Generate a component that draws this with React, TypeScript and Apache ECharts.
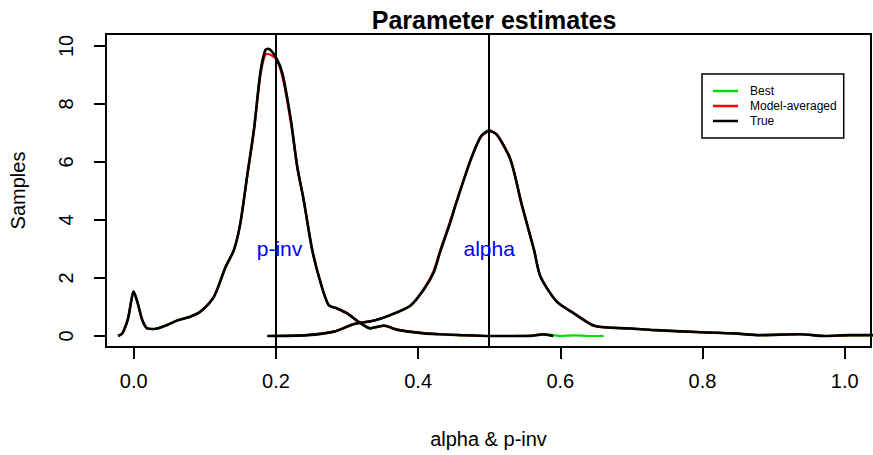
import React, { useEffect, useRef } from "react";
import * as echarts from "echarts";

// ---- data ----
const xTicks = [0, 0.2, 0.4, 0.6, 0.8, 1.0];
const yTicks = [0, 2, 4, 6, 8, 10];

const pinvX = [-0.022, -0.016, -0.008, 0.0, 0.006, 0.012, 0.019, 0.029, 0.047, 0.061, 0.08, 0.094, 0.113, 0.129, 0.141, 0.15, 0.16, 0.169, 0.178, 0.185, 0.189, 0.2, 0.209, 0.221, 0.23, 0.239, 0.251, 0.263, 0.274, 0.286, 0.3, 0.319, 0.333, 0.343, 0.352, 0.371, 0.408, 0.431, 0.46, 0.5, 0.53, 0.558, 0.575, 0.59];
const pinvTrue = [0.0, 0.09, 0.6, 1.53, 1.1, 0.55, 0.26, 0.24, 0.38, 0.53, 0.67, 0.84, 1.36, 2.37, 2.97, 3.89, 5.6, 7.1, 9.06, 9.85, 9.9, 9.6, 9.06, 7.45, 5.84, 4.69, 2.97, 1.82, 1.07, 0.95, 0.78, 0.44, 0.26, 0.32, 0.36, 0.21, 0.09, 0.06, 0.03, 0.0, 0.0, 0.0, 0.05, 0.0];
const pinvModel = [0.0, 0.1, 0.62, 1.5, 1.08, 0.55, 0.27, 0.24, 0.37, 0.54, 0.66, 0.85, 1.38, 2.35, 2.98, 3.9, 5.55, 7.05, 8.95, 9.7, 9.72, 9.55, 8.95, 7.35, 5.8, 4.7, 2.98, 1.83, 1.08, 0.94, 0.79, 0.45, 0.27, 0.31, 0.35, 0.22, 0.1, 0.06, 0.03, 0.0, 0.0, 0.01, 0.06, 0.0];

const pinvBestX = [-0.022, -0.016, -0.008, 0.0, 0.006, 0.012, 0.019, 0.029, 0.047, 0.061, 0.08, 0.094, 0.113, 0.129, 0.141, 0.15, 0.16, 0.169, 0.178, 0.185, 0.189, 0.2, 0.209, 0.221, 0.23, 0.239, 0.251, 0.263, 0.274, 0.286, 0.3, 0.319, 0.333, 0.343, 0.352, 0.371, 0.408, 0.431, 0.46, 0.5, 0.53, 0.558, 0.575, 0.6, 0.62, 0.64, 0.661];
const pinvBest = [0.0, 0.09, 0.6, 1.53, 1.1, 0.55, 0.26, 0.24, 0.38, 0.53, 0.67, 0.84, 1.36, 2.37, 2.97, 3.89, 5.6, 7.1, 9.06, 9.85, 9.9, 9.6, 9.06, 7.45, 5.84, 4.69, 2.97, 1.82, 1.07, 0.95, 0.78, 0.44, 0.26, 0.32, 0.36, 0.21, 0.09, 0.06, 0.03, 0.0, 0.0, 0.01, 0.07, 0.0, 0.02, 0.0, 0.0];

const alphaX = [0.188, 0.244, 0.282, 0.31, 0.338, 0.361, 0.389, 0.408, 0.422, 0.431, 0.445, 0.455, 0.474, 0.488, 0.5, 0.511, 0.53, 0.546, 0.563, 0.572, 0.595, 0.619, 0.649, 0.698, 0.727, 0.797, 0.844, 0.881, 0.937, 0.973, 1.008, 1.04];
const alphaTrue = [0.0, 0.03, 0.15, 0.41, 0.53, 0.72, 1.04, 1.6, 2.2, 2.9, 3.9, 4.69, 6.07, 6.87, 7.08, 6.93, 6.07, 4.5, 2.97, 2.05, 1.18, 0.78, 0.34, 0.26, 0.21, 0.13, 0.09, 0.03, 0.06, 0.0, 0.03, 0.03];
const alphaModel = [0.0, 0.03, 0.16, 0.42, 0.53, 0.72, 1.05, 1.62, 2.25, 2.95, 3.95, 4.72, 6.1, 6.85, 7.05, 6.95, 6.1, 4.52, 2.98, 2.06, 1.19, 0.79, 0.35, 0.26, 0.21, 0.13, 0.09, 0.03, 0.06, 0.0, 0.03, 0.03];
const alphaBest = [0.0, 0.03, 0.15, 0.41, 0.53, 0.72, 1.04, 1.6, 2.2, 2.9, 3.9, 4.69, 6.07, 6.87, 7.07, 6.93, 6.07, 4.5, 2.97, 2.05, 1.18, 0.78, 0.34, 0.26, 0.21, 0.13, 0.09, 0.03, 0.06, 0.0, 0.03, 0.03];

const vLines = [0.2, 0.5];
const paramLabels = ["p-inv", "alpha"];
const labelX = [0.205, 0.5];
const labelY = [3.03, 3.03];

const legendNames = ["Best", "Model-averaged", "True"];
const colors = ["#00dd00", "#ff0000", "#000000"];
const widths = [2.2, 2.2, 2.6];

const zip = (xs: number[], ys: number[]) => xs.map((x, i) => [x, ys[i]]);

export default function App() {
  const ref = useRef<HTMLDivElement>(null);
  useEffect(() => {
    if (!ref.current) return;
    const chart = echarts.init(ref.current, undefined, { renderer: "svg" });
    const lineSeries = (name: string, k: number, data: number[][]) => ({
      name,
      type: "line",
      data,
      smooth: 0.25,
      showSymbol: false,
      symbol: "none",
      color: colors[k],
      lineStyle: { color: colors[k], width: widths[k] },
      silent: true,
    });
    const font = "'Liberation Sans', Arial, Helvetica, sans-serif";
    chart.setOption({
      animation: false,
      textStyle: { fontFamily: font },
      title: {
        text: "Parameter estimates",
        left: 489,
        top: 2,
        textAlign: "center",
        textStyle: { fontSize: 25, fontWeight: "bold", color: "#000", fontFamily: font },
      },
      legend: {
        data: legendNames,
        orient: "vertical",
        left: 702,
        top: 74,
        icon: "rect",
        itemWidth: 25,
        itemHeight: 2.5,
        itemGap: 3,
        padding: [11, 7, 11, 11],
        borderColor: "#000",
        borderWidth: 1.5,
        backgroundColor: "#fff",
        selectedMode: false,
        textStyle: { fontSize: 12, color: "#000", fontFamily: font, padding: [0, 0, 0, 7] },
      },
      grid: {
        left: 105,
        right: 2,
        top: 34,
        bottom: 108,
        show: true,
        borderColor: "#000",
        borderWidth: 2,
        backgroundColor: "transparent",
      },
      xAxis: {
        type: "value",
        min: -0.039,
        max: 1.037,
        name: "alpha & p-inv",
        nameLocation: "middle",
        nameGap: 82,
        nameTextStyle: { fontSize: 20, color: "#000", fontFamily: font },
        axisLine: { show: true, onZero: false, lineStyle: { color: "#000", width: 2 } },
        axisTick: { show: true, length: 12, customValues: xTicks, lineStyle: { color: "#000", width: 2 } },
        axisLabel: {
          customValues: xTicks,
          margin: 24,
          fontSize: 20,
          color: "#000",
          fontFamily: font,
          formatter: (v: number) => v.toFixed(1),
        },
        splitLine: { show: false },
      },
      yAxis: {
        type: "value",
        min: -0.38,
        max: 10.41,
        name: "Samples",
        nameLocation: "middle",
        nameRotate: 90,
        nameGap: 78,
        nameTextStyle: { fontSize: 20, color: "#000", fontFamily: font },
        axisLine: { show: true, onZero: false, lineStyle: { color: "#000", width: 2 } },
        axisTick: { show: true, length: 12, customValues: yTicks, lineStyle: { color: "#000", width: 2 } },
        axisLabel: {
          customValues: yTicks,
          rotate: 90,
          margin: 30,
          fontSize: 20,
          color: "#000",
          fontFamily: font,
          formatter: (v: number) => String(v),
        },
        splitLine: { show: false },
      },
      series: [
        lineSeries("Best", 0, zip(pinvBestX, pinvBest)),
        lineSeries("Best", 0, zip(alphaX, alphaBest)),
        lineSeries("Model-averaged", 1, zip(pinvX, pinvModel)),
        lineSeries("Model-averaged", 1, zip(alphaX, alphaModel)),
        lineSeries("True", 2, zip(pinvX, pinvTrue)),
        {
          ...lineSeries("True", 2, zip(alphaX, alphaTrue)),
          markLine: {
            silent: true,
            symbol: ["none", "none"],
            label: { show: false },
            lineStyle: { color: "#000", width: 2, type: "solid", opacity: 1 },
            data: vLines.map((v) => ({ xAxis: v })),
          },
        },
        {
          name: "labels",
          type: "scatter",
          symbolSize: 0,
          silent: true,
          itemStyle: { opacity: 1 },
          data: labelX.map((x, i) => ({ value: [x, labelY[i]], name: paramLabels[i] })),
          label: {
            show: true,
            position: "inside",
            formatter: (p: any) => p.name,
            color: "#0000ff",
            opacity: 1,
            fontSize: 21,
            fontFamily: font,
          },
          z: 10,
        },
      ],
    });
    return () => chart.dispose();
  }, []);
  return (
    <div
      ref={ref}
      style={{ position: "fixed", left: 0, top: 0, width: 873, height: 455, background: "#fff" }}
    />
  );
}
